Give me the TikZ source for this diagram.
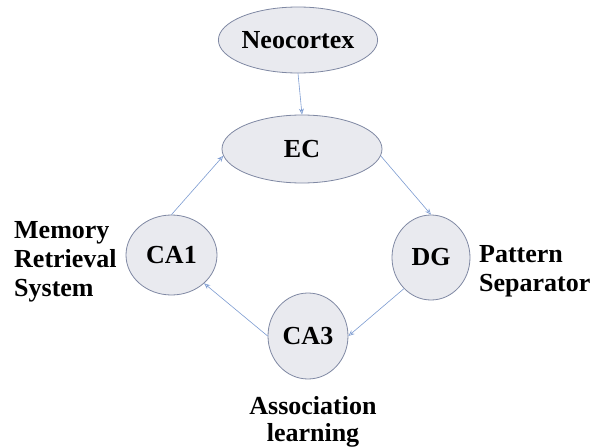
\documentclass[tikz,border=0pt]{standalone}
\usepackage{fontspec}
\setmainfont{Liberation Serif}
\usetikzlibrary{shapes.geometric,arrows.meta}
\definecolor{nodefill}{HTML}{E9EAEF}
\definecolor{nodeline}{HTML}{7F88A3}
\definecolor{arrowcol}{HTML}{7C9BD1}
\tikzset{
  region/.style={ellipse, draw=nodeline, fill=nodefill, line width=0.8pt, inner sep=0pt,
    font=\fontsize{26}{28}\selectfont\bfseries},
  link/.style={draw=arrowcol, line width=0.6pt, -{Stealth[length=6pt,width=5pt,open]}},
  lab/.style={font=\fontsize{26}{29}\selectfont\bfseries, inner sep=0pt}
}
\begin{document}
\begin{tikzpicture}[x=1pt,y=-1pt]
\useasboundingbox (0,0) rectangle (590,447);
\node[region, minimum width=138pt, minimum height=66pt] (neo) at (298,40) {Neocortex};
\node[region, minimum width=160pt, minimum height=68pt] (ec) at (302,149) {EC};
\node[region, minimum width=91pt, minimum height=80pt] (ca1) at (171.5,255) {CA1};
\node[region, minimum width=78pt, minimum height=85pt] (dg) at (431,257.5) {DG};
\node[region, minimum width=80pt, minimum height=86pt] (ca3) at (308,336) {CA3};
\draw[link] (neo.south) -- (ec.north);
\draw[link] (ca1.north) -- (ec.185);
\draw[link] (ec.-5) -- (dg.north);
\draw[link] (dg.229) -- (ca3.east);
\draw[link] (ca3.west) -- (ca1.-41);
\node[lab, align=left, anchor=west] (memlab) at (14,262) {Memory\\Retrieval\\System};
\node[lab, align=left, anchor=west] (patlab) at (479,271) {Pattern\\Separator};
\node[lab, align=center, font=\fontsize{26}{27}\selectfont\bfseries] (asslab) at (313,422) {Association\\learning};
\end{tikzpicture}
\end{document}
